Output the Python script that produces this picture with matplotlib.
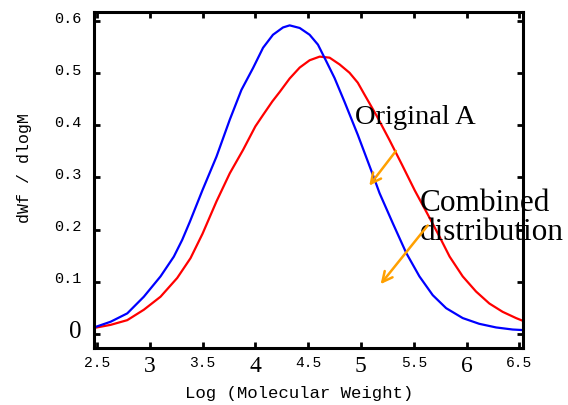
import matplotlib
matplotlib.use("Agg")
import matplotlib.pyplot as plt
from matplotlib.transforms import ScaledTranslation

# values
blue_x = [2.472, 2.63, 2.787, 2.944, 3.102, 3.228, 3.307, 3.38, 3.5, 3.632, 3.758, 3.868,
          3.978, 4.073, 4.167, 4.262, 4.325, 4.42, 4.514, 4.593, 4.672, 4.75, 4.845, 4.97,
          5.113, 5.176, 5.302, 5.429, 5.554, 5.68, 5.807, 5.964, 6.12, 6.28, 6.437, 6.53]
blue_y = [0.012, 0.023, 0.039, 0.071, 0.110, 0.148, 0.180, 0.215, 0.276, 0.340, 0.411, 0.468,
          0.510, 0.549, 0.574, 0.588, 0.592, 0.587, 0.574, 0.555, 0.523, 0.491, 0.445, 0.382,
          0.305, 0.270, 0.212, 0.155, 0.110, 0.074, 0.049, 0.030, 0.019, 0.012, 0.008, 0.007]

red_x = [2.472, 2.63, 2.787, 2.944, 3.102, 3.26, 3.386, 3.5, 3.632, 3.758, 3.884, 4.0,
         4.073, 4.161, 4.23, 4.325, 4.42, 4.514, 4.609, 4.703, 4.798, 4.892, 4.97, 5.034,
         5.15, 5.27, 5.39, 5.51, 5.63, 5.74, 5.84, 5.964, 6.09, 6.216, 6.342, 6.469, 6.53]
red_y = [0.011, 0.017, 0.026, 0.046, 0.071, 0.107, 0.145, 0.192, 0.254, 0.308, 0.353, 0.398,
         0.420, 0.446, 0.464, 0.490, 0.511, 0.525, 0.532, 0.530, 0.517, 0.501, 0.482, 0.459,
         0.418, 0.372, 0.324, 0.275, 0.230, 0.188, 0.148, 0.110, 0.081, 0.058, 0.042, 0.030,
         0.025]

x_ticks = [2.5, 3, 3.5, 4, 4.5, 5, 5.5, 6, 6.5]
x_tick_labels = ["2.5", "3", "3.5", "4", "4.5", "5", "5.5", "6", "6.5"]
y_ticks = [0, 0.1, 0.2, 0.3, 0.4, 0.5, 0.6]
y_tick_labels = ["0", "0.1", "0.2", "0.3", "0.4", "0.5", "0.6"]

mono = "Liberation Mono"
serif = "Liberation Serif"

fig = plt.figure(figsize=(5.68, 4.05), dpi=100)
ax = fig.add_axes([0.1655, 0.1407, 0.7553, 0.8297])

ax.plot(red_x, red_y, color="#ff0000", lw=1.6)
ax.plot(blue_x, blue_y, color="#0000ff", lw=1.6)

ax.set_xlim(2.472, 6.535)
ax.set_ylim(-0.0275, 0.6177)

for side in ax.spines.values():
    side.set_linewidth(2.2)

ax.set_xticks(x_ticks)
ax.set_xticklabels(x_tick_labels)
ax.set_yticks(y_ticks)
ax.set_yticklabels(y_tick_labels)
ax.tick_params(direction="in", length=4, width=2, top=True, right=True)
ax.tick_params(axis="x", pad=6)
ax.tick_params(axis="y", pad=9)

for lab in ax.get_xticklabels():
    if "." in lab.get_text():
        lab.set_fontfamily(mono)
        lab.set_fontsize(10.5)
    else:
        lab.set_fontfamily(serif)
        lab.set_fontsize(17)
    lab.set_verticalalignment("top")

shift = ScaledTranslation(0, 4 / 100, fig.dpi_scale_trans)
for lab in ax.get_yticklabels():
    if "." in lab.get_text():
        lab.set_fontfamily(mono)
        lab.set_fontsize(11)
    else:
        lab.set_fontfamily(serif)
        lab.set_fontsize(18)
    lab.set_transform(lab.get_transform() + shift)

ax.set_xlabel("Log (Molecular Weight)", fontfamily=mono, fontsize=12.5)
ax.xaxis.set_label_coords(0.479, -0.113)
ax.set_ylabel("dWf / dlogM", fontfamily=mono, fontsize=12)
ax.yaxis.set_label_coords(-0.145, 0.537)

ax.text(4.94, 0.415, "Original A", fontfamily=serif, fontsize=20.5, va="center", ha="left")
ax.text(5.554, 0.2225, "Combined\ndistribution", fontfamily=serif, fontsize=22.5,
        va="center", ha="left", linespacing=1.0, clip_on=False)

arrow = dict(arrowstyle="->", color="#ffa000", lw=1.8, mutation_scale=18)
ax.annotate("", xy=(5.063, 0.280), xytext=(5.347, 0.355), arrowprops=arrow)
ax.annotate("", xy=(5.17, 0.091), xytext=(5.649, 0.212), arrowprops=arrow)

fig.savefig("out.png", dpi=100)
